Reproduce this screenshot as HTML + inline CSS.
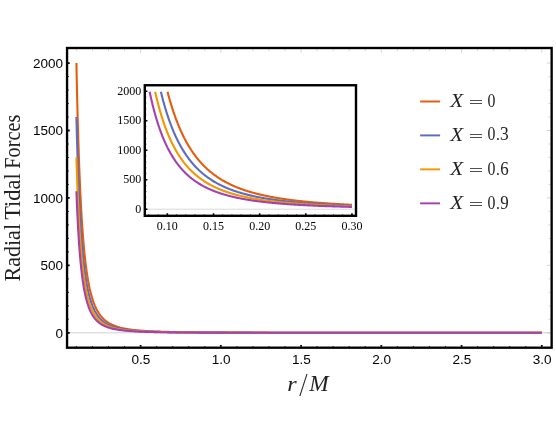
<!DOCTYPE html><html><head><title>Radial Tidal Forces</title><meta charset="utf-8"><style>html,body{margin:0;padding:0;background:#fff}svg{display:block;will-change:transform}text{font-family:"Liberation Sans",sans-serif}.s{font-family:"Liberation Serif",serif}</style></head><body>
<svg width="556" height="445" viewBox="0 0 556 445">
<rect width="556" height="445" fill="#fff"/>
<line x1="68" y1="332.80" x2="551" y2="332.80" stroke="#d0d0d0" stroke-width="1"/>
<path d="M76.41,63.08 L76.55,69.89 L76.68,76.53 L76.82,83.00 L76.96,89.31 L77.11,95.45 L77.25,101.45 L77.39,107.29 L77.54,112.98 L77.69,118.53 L77.84,123.94 L77.99,129.22 L78.14,134.36 L78.29,139.37 L78.44,144.25 L78.60,149.01 L78.75,153.65 L78.91,158.17 L79.07,162.58 L79.23,166.88 L79.39,171.07 L79.55,175.15 L79.72,179.13 L79.88,183.01 L80.05,186.80 L80.22,190.48 L80.39,194.08 L80.56,197.58 L80.73,200.99 L80.91,204.32 L81.08,207.56 L81.26,210.73 L81.44,213.81 L81.62,216.81 L81.80,219.74 L81.99,222.60 L82.17,225.38 L82.36,228.09 L82.55,230.73 L82.74,233.31 L82.93,235.82 L83.12,238.27 L83.32,240.66 L83.51,242.99 L83.71,245.25 L83.91,247.46 L84.11,249.62 L84.32,251.72 L84.52,253.77 L84.73,255.76 L84.94,257.71 L85.15,259.60 L85.36,261.45 L85.57,263.25 L85.79,265.01 L86.01,266.72 L86.23,268.39 L86.45,270.01 L86.67,271.60 L86.90,273.14 L87.12,274.65 L87.35,276.12 L87.58,277.55 L87.82,278.95 L88.05,280.30 L88.29,281.63 L88.53,282.92 L88.77,284.18 L89.01,285.41 L89.26,286.61 L89.51,287.77 L89.75,288.91 L90.01,290.02 L90.26,291.10 L90.52,292.15 L90.77,293.18 L91.03,294.18 L91.30,295.15 L91.56,296.10 L91.83,297.03 L92.10,297.93 L92.37,298.81 L92.64,299.67 L92.92,300.51 L93.20,301.32 L93.48,302.12 L93.76,302.89 L94.05,303.65 L94.34,304.38 L94.63,305.10 L94.92,305.80 L95.22,306.48 L95.52,307.15 L95.82,307.79 L96.12,308.43 L96.43,309.04 L96.74,309.64 L97.05,310.23 L97.36,310.80 L97.68,311.35 L98.00,311.89 L98.32,312.42 L98.65,312.94 L98.97,313.44 L99.30,313.93 L99.64,314.40 L99.97,314.87 L100.31,315.32 L100.65,315.76 L101.00,316.19 L101.35,316.61 L101.70,317.02 L102.05,317.42 L102.41,317.81 L102.77,318.18 L103.13,318.55 L103.50,318.91 L103.87,319.26 L104.24,319.61 L104.62,319.94 L104.99,320.26 L105.38,320.58 L105.76,320.89 L106.15,321.19 L106.54,321.48 L106.94,321.77 L107.34,322.05 L107.74,322.32 L108.14,322.58 L108.55,322.84 L108.97,323.09 L109.38,323.34 L109.80,323.58 L110.22,323.81 L110.65,324.04 L111.08,324.26 L111.52,324.47 L111.95,324.68 L112.40,324.89 L112.84,325.09 L113.29,325.28 L113.74,325.47 L114.20,325.66 L114.66,325.84 L115.13,326.01 L115.60,326.19 L116.07,326.35 L116.55,326.51 L117.03,326.67 L117.51,326.83 L118.00,326.98 L118.49,327.13 L118.99,327.27 L119.49,327.41 L120.00,327.55 L120.51,327.68 L121.03,327.81 L121.54,327.93 L122.07,328.06 L122.60,328.18 L123.13,328.29 L123.67,328.41 L124.21,328.52 L124.76,328.63 L125.31,328.73 L125.86,328.83 L126.42,328.93 L126.99,329.03 L127.56,329.13 L128.13,329.22 L128.72,329.31 L129.30,329.40 L129.89,329.48 L130.49,329.57 L131.09,329.65 L131.69,329.73 L132.30,329.81 L132.92,329.88 L133.54,329.96 L134.17,330.03 L134.80,330.10 L135.43,330.17 L136.08,330.23 L136.73,330.30 L137.38,330.36 L138.04,330.42 L138.70,330.48 L139.37,330.54 L140.05,330.60 L140.73,330.65 L141.42,330.71 L142.11,330.76 L142.81,330.81 L143.52,330.86 L144.23,330.91 L144.95,330.96 L145.67,331.00 L146.41,331.05 L147.14,331.09 L147.88,331.14 L148.63,331.18 L149.39,331.22 L150.15,331.26 L150.92,331.30 L151.70,331.34 L152.48,331.37 L153.27,331.41 L154.06,331.45 L154.86,331.48 L155.67,331.51 L156.49,331.55 L157.31,331.58 L158.14,331.61 L158.98,331.64 L159.82,331.67 L160.67,331.70 L161.53,331.72 L162.40,331.75 L163.27,331.78 L164.15,331.80 L165.04,331.83 L165.94,331.85 L166.84,331.88 L167.75,331.90 L168.67,331.92 L169.60,331.94 L170.54,331.97 L171.48,331.99 L172.43,332.01 L173.39,332.03 L174.36,332.05 L175.33,332.07 L176.32,332.09 L177.31,332.10 L178.31,332.12 L179.32,332.14 L180.34,332.15 L181.37,332.17 L182.40,332.19 L183.45,332.20 L184.50,332.22 L185.56,332.23 L186.64,332.25 L187.72,332.26 L188.81,332.27 L189.91,332.29 L191.02,332.30 L192.13,332.31 L193.26,332.33 L194.40,332.34 L195.55,332.35 L196.70,332.36 L197.87,332.37 L199.05,332.38 L200.24,332.39 L201.43,332.40 L202.64,332.41 L203.86,332.42 L205.09,332.43 L206.33,332.44 L207.58,332.45 L208.84,332.46 L210.11,332.47 L211.39,332.48 L212.68,332.48 L213.99,332.49 L215.30,332.50 L216.63,332.51 L217.97,332.52 L219.32,332.52 L220.68,332.53 L222.05,332.54 L223.43,332.54 L224.83,332.55 L226.24,332.56 L227.66,332.56 L229.09,332.57 L230.53,332.57 L231.99,332.58 L233.46,332.59 L234.94,332.59 L236.44,332.60 L237.94,332.60 L239.46,332.61 L241.00,332.61 L242.54,332.62 L244.10,332.62 L245.68,332.62 L247.26,332.63 L248.86,332.63 L250.48,332.64 L252.10,332.64 L253.74,332.65 L255.40,332.65 L257.07,332.65 L258.75,332.66 L260.45,332.66 L262.17,332.66 L263.89,332.67 L265.64,332.67 L267.39,332.67 L269.16,332.68 L270.95,332.68 L272.76,332.68 L274.57,332.69 L276.41,332.69 L278.26,332.69 L280.12,332.69 L282.00,332.70 L283.90,332.70 L285.81,332.70 L287.74,332.71 L289.69,332.71 L291.65,332.71 L293.63,332.71 L295.63,332.71 L297.65,332.72 L299.68,332.72 L301.73,332.72 L303.79,332.72 L305.88,332.72 L307.98,332.73 L310.10,332.73 L312.24,332.73 L314.39,332.73 L316.57,332.73 L318.76,332.74 L320.97,332.74 L323.20,332.74 L325.45,332.74 L327.72,332.74 L330.01,332.74 L332.32,332.74 L334.65,332.75 L337.00,332.75 L339.36,332.75 L341.75,332.75 L344.16,332.75 L346.59,332.75 L349.04,332.75 L351.51,332.75 L354.01,332.76 L356.52,332.76 L359.05,332.76 L361.61,332.76 L364.19,332.76 L366.79,332.76 L369.41,332.76 L372.06,332.76 L374.73,332.76 L377.42,332.77 L380.13,332.77 L382.87,332.77 L385.63,332.77 L388.42,332.77 L391.23,332.77 L394.06,332.77 L396.91,332.77 L399.80,332.77 L402.70,332.77 L405.63,332.77 L408.59,332.77 L411.57,332.77 L414.58,332.77 L417.61,332.78 L420.67,332.78 L423.75,332.78 L426.86,332.78 L430.00,332.78 L433.16,332.78 L436.36,332.78 L439.57,332.78 L442.82,332.78 L446.09,332.78 L449.40,332.78 L452.73,332.78 L456.09,332.78 L459.47,332.78 L462.89,332.78 L466.34,332.78 L469.81,332.78 L473.32,332.78 L476.85,332.78 L480.42,332.78 L484.01,332.79 L487.64,332.79 L491.30,332.79 L494.99,332.79 L498.71,332.79 L502.46,332.79 L506.25,332.79 L510.06,332.79 L513.91,332.79 L517.80,332.79 L521.71,332.79 L525.66,332.79 L529.64,332.79 L533.66,332.79 L537.71,332.79 L541.80,332.79" fill="none" stroke="#E65C0E" stroke-width="2.1" stroke-linejoin="round"/>
<path d="M76.41,117.02 L76.55,122.47 L76.68,127.78 L76.82,132.96 L76.96,138.00 L77.11,142.92 L77.25,147.72 L77.39,152.39 L77.54,156.95 L77.69,161.39 L77.84,165.71 L77.99,169.93 L78.14,174.04 L78.29,178.05 L78.44,181.96 L78.60,185.77 L78.75,189.48 L78.91,193.10 L79.07,196.63 L79.23,200.06 L79.39,203.42 L79.55,206.68 L79.72,209.87 L79.88,212.97 L80.05,216.00 L80.22,218.95 L80.39,221.82 L80.56,224.62 L80.73,227.35 L80.91,230.02 L81.08,232.61 L81.26,235.14 L81.44,237.61 L81.62,240.01 L81.80,242.35 L81.99,244.64 L82.17,246.86 L82.36,249.03 L82.55,251.15 L82.74,253.21 L82.93,255.22 L83.12,257.18 L83.32,259.09 L83.51,260.95 L83.71,262.76 L83.91,264.53 L84.11,266.25 L84.32,267.93 L84.52,269.57 L84.73,271.17 L84.94,272.72 L85.15,274.24 L85.36,275.72 L85.57,277.16 L85.79,278.57 L86.01,279.94 L86.23,281.27 L86.45,282.57 L86.67,283.84 L86.90,285.08 L87.12,286.28 L87.35,287.46 L87.58,288.60 L87.82,289.72 L88.05,290.80 L88.29,291.86 L88.53,292.90 L88.77,293.91 L89.01,294.89 L89.26,295.84 L89.51,296.78 L89.75,297.69 L90.01,298.57 L90.26,299.44 L90.52,300.28 L90.77,301.10 L91.03,301.90 L91.30,302.68 L91.56,303.44 L91.83,304.18 L92.10,304.91 L92.37,305.61 L92.64,306.30 L92.92,306.97 L93.20,307.62 L93.48,308.25 L93.76,308.87 L94.05,309.48 L94.34,310.07 L94.63,310.64 L94.92,311.20 L95.22,311.75 L95.52,312.28 L95.82,312.80 L96.12,313.30 L96.43,313.79 L96.74,314.27 L97.05,314.74 L97.36,315.20 L97.68,315.64 L98.00,316.07 L98.32,316.50 L98.65,316.91 L98.97,317.31 L99.30,317.70 L99.64,318.08 L99.97,318.45 L100.31,318.82 L100.65,319.17 L101.00,319.51 L101.35,319.85 L101.70,320.18 L102.05,320.49 L102.41,320.80 L102.77,321.11 L103.13,321.40 L103.50,321.69 L103.87,321.97 L104.24,322.24 L104.62,322.51 L104.99,322.77 L105.38,323.02 L105.76,323.27 L106.15,323.51 L106.54,323.75 L106.94,323.97 L107.34,324.20 L107.74,324.41 L108.14,324.63 L108.55,324.83 L108.97,325.03 L109.38,325.23 L109.80,325.42 L110.22,325.61 L110.65,325.79 L111.08,325.97 L111.52,326.14 L111.95,326.31 L112.40,326.47 L112.84,326.63 L113.29,326.79 L113.74,326.94 L114.20,327.09 L114.66,327.23 L115.13,327.37 L115.60,327.51 L116.07,327.64 L116.55,327.77 L117.03,327.90 L117.51,328.02 L118.00,328.14 L118.49,328.26 L118.99,328.38 L119.49,328.49 L120.00,328.60 L120.51,328.70 L121.03,328.81 L121.54,328.91 L122.07,329.00 L122.60,329.10 L123.13,329.19 L123.67,329.29 L124.21,329.37 L124.76,329.46 L125.31,329.54 L125.86,329.63 L126.42,329.71 L126.99,329.79 L127.56,329.86 L128.13,329.94 L128.72,330.01 L129.30,330.08 L129.89,330.15 L130.49,330.21 L131.09,330.28 L131.69,330.34 L132.30,330.40 L132.92,330.47 L133.54,330.52 L134.17,330.58 L134.80,330.64 L135.43,330.69 L136.08,330.75 L136.73,330.80 L137.38,330.85 L138.04,330.90 L138.70,330.95 L139.37,330.99 L140.05,331.04 L140.73,331.08 L141.42,331.13 L142.11,331.17 L142.81,331.21 L143.52,331.25 L144.23,331.29 L144.95,331.33 L145.67,331.36 L146.41,331.40 L147.14,331.44 L147.88,331.47 L148.63,331.50 L149.39,331.54 L150.15,331.57 L150.92,331.60 L151.70,331.63 L152.48,331.66 L153.27,331.69 L154.06,331.72 L154.86,331.74 L155.67,331.77 L156.49,331.80 L157.31,331.82 L158.14,331.85 L158.98,331.87 L159.82,331.89 L160.67,331.92 L161.53,331.94 L162.40,331.96 L163.27,331.98 L164.15,332.00 L165.04,332.02 L165.94,332.04 L166.84,332.06 L167.75,332.08 L168.67,332.10 L169.60,332.12 L170.54,332.13 L171.48,332.15 L172.43,332.17 L173.39,332.18 L174.36,332.20 L175.33,332.21 L176.32,332.23 L177.31,332.24 L178.31,332.26 L179.32,332.27 L180.34,332.28 L181.37,332.30 L182.40,332.31 L183.45,332.32 L184.50,332.33 L185.56,332.35 L186.64,332.36 L187.72,332.37 L188.81,332.38 L189.91,332.39 L191.02,332.40 L192.13,332.41 L193.26,332.42 L194.40,332.43 L195.55,332.44 L196.70,332.45 L197.87,332.46 L199.05,332.47 L200.24,332.47 L201.43,332.48 L202.64,332.49 L203.86,332.50 L205.09,332.51 L206.33,332.51 L207.58,332.52 L208.84,332.53 L210.11,332.53 L211.39,332.54 L212.68,332.55 L213.99,332.55 L215.30,332.56 L216.63,332.57 L217.97,332.57 L219.32,332.58 L220.68,332.58 L222.05,332.59 L223.43,332.59 L224.83,332.60 L226.24,332.60 L227.66,332.61 L229.09,332.61 L230.53,332.62 L231.99,332.62 L233.46,332.63 L234.94,332.63 L236.44,332.64 L237.94,332.64 L239.46,332.64 L241.00,332.65 L242.54,332.65 L244.10,332.66 L245.68,332.66 L247.26,332.66 L248.86,332.67 L250.48,332.67 L252.10,332.67 L253.74,332.68 L255.40,332.68 L257.07,332.68 L258.75,332.69 L260.45,332.69 L262.17,332.69 L263.89,332.69 L265.64,332.70 L267.39,332.70 L269.16,332.70 L270.95,332.70 L272.76,332.71 L274.57,332.71 L276.41,332.71 L278.26,332.71 L280.12,332.72 L282.00,332.72 L283.90,332.72 L285.81,332.72 L287.74,332.72 L289.69,332.73 L291.65,332.73 L293.63,332.73 L295.63,332.73 L297.65,332.73 L299.68,332.73 L301.73,332.74 L303.79,332.74 L305.88,332.74 L307.98,332.74 L310.10,332.74 L312.24,332.74 L314.39,332.75 L316.57,332.75 L318.76,332.75 L320.97,332.75 L323.20,332.75 L325.45,332.75 L327.72,332.75 L330.01,332.75 L332.32,332.76 L334.65,332.76 L337.00,332.76 L339.36,332.76 L341.75,332.76 L344.16,332.76 L346.59,332.76 L349.04,332.76 L351.51,332.76 L354.01,332.76 L356.52,332.77 L359.05,332.77 L361.61,332.77 L364.19,332.77 L366.79,332.77 L369.41,332.77 L372.06,332.77 L374.73,332.77 L377.42,332.77 L380.13,332.77 L382.87,332.77 L385.63,332.77 L388.42,332.77 L391.23,332.78 L394.06,332.78 L396.91,332.78 L399.80,332.78 L402.70,332.78 L405.63,332.78 L408.59,332.78 L411.57,332.78 L414.58,332.78 L417.61,332.78 L420.67,332.78 L423.75,332.78 L426.86,332.78 L430.00,332.78 L433.16,332.78 L436.36,332.78 L439.57,332.78 L442.82,332.78 L446.09,332.78 L449.40,332.78 L452.73,332.79 L456.09,332.79 L459.47,332.79 L462.89,332.79 L466.34,332.79 L469.81,332.79 L473.32,332.79 L476.85,332.79 L480.42,332.79 L484.01,332.79 L487.64,332.79 L491.30,332.79 L494.99,332.79 L498.71,332.79 L502.46,332.79 L506.25,332.79 L510.06,332.79 L513.91,332.79 L517.80,332.79 L521.71,332.79 L525.66,332.79 L529.64,332.79 L533.66,332.79 L537.71,332.79 L541.80,332.79" fill="none" stroke="#5D6DC1" stroke-width="2.1" stroke-linejoin="round"/>
<path d="M76.41,157.48 L76.55,161.91 L76.68,166.22 L76.82,170.43 L76.96,174.53 L77.11,178.52 L77.25,182.42 L77.39,186.22 L77.54,189.92 L77.69,193.53 L77.84,197.04 L77.99,200.47 L78.14,203.81 L78.29,207.07 L78.44,210.24 L78.60,213.34 L78.75,216.35 L78.91,219.29 L79.07,222.16 L79.23,224.95 L79.39,227.68 L79.55,230.33 L79.72,232.92 L79.88,235.44 L80.05,237.90 L80.22,240.29 L80.39,242.63 L80.56,244.91 L80.73,247.13 L80.91,249.29 L81.08,251.40 L81.26,253.45 L81.44,255.46 L81.62,257.41 L81.80,259.31 L81.99,261.17 L82.17,262.98 L82.36,264.74 L82.55,266.46 L82.74,268.13 L82.93,269.77 L83.12,271.36 L83.32,272.91 L83.51,274.42 L83.71,275.89 L83.91,277.33 L84.11,278.73 L84.32,280.10 L84.52,281.43 L84.73,282.72 L84.94,283.99 L85.15,285.22 L85.36,286.42 L85.57,287.59 L85.79,288.74 L86.01,289.85 L86.23,290.93 L86.45,291.99 L86.67,293.02 L86.90,294.02 L87.12,295.00 L87.35,295.96 L87.58,296.89 L87.82,297.79 L88.05,298.68 L88.29,299.54 L88.53,300.38 L88.77,301.20 L89.01,302.00 L89.26,302.77 L89.51,303.53 L89.75,304.27 L90.01,304.99 L90.26,305.69 L90.52,306.38 L90.77,307.04 L91.03,307.70 L91.30,308.33 L91.56,308.95 L91.83,309.55 L92.10,310.14 L92.37,310.71 L92.64,311.27 L92.92,311.81 L93.20,312.34 L93.48,312.86 L93.76,313.36 L94.05,313.85 L94.34,314.33 L94.63,314.80 L94.92,315.25 L95.22,315.69 L95.52,316.13 L95.82,316.55 L96.12,316.96 L96.43,317.36 L96.74,317.75 L97.05,318.13 L97.36,318.50 L97.68,318.86 L98.00,319.21 L98.32,319.55 L98.65,319.89 L98.97,320.21 L99.30,320.53 L99.64,320.84 L99.97,321.14 L100.31,321.44 L100.65,321.72 L101.00,322.00 L101.35,322.28 L101.70,322.54 L102.05,322.80 L102.41,323.05 L102.77,323.30 L103.13,323.54 L103.50,323.77 L103.87,324.00 L104.24,324.22 L104.62,324.44 L104.99,324.65 L105.38,324.86 L105.76,325.06 L106.15,325.25 L106.54,325.44 L106.94,325.63 L107.34,325.81 L107.74,325.99 L108.14,326.16 L108.55,326.33 L108.97,326.49 L109.38,326.65 L109.80,326.80 L110.22,326.96 L110.65,327.10 L111.08,327.25 L111.52,327.39 L111.95,327.52 L112.40,327.66 L112.84,327.79 L113.29,327.91 L113.74,328.04 L114.20,328.16 L114.66,328.27 L115.13,328.39 L115.60,328.50 L116.07,328.61 L116.55,328.71 L117.03,328.82 L117.51,328.92 L118.00,329.02 L118.49,329.11 L118.99,329.21 L119.49,329.30 L120.00,329.38 L120.51,329.47 L121.03,329.55 L121.54,329.64 L122.07,329.72 L122.60,329.79 L123.13,329.87 L123.67,329.94 L124.21,330.02 L124.76,330.09 L125.31,330.16 L125.86,330.22 L126.42,330.29 L126.99,330.35 L127.56,330.41 L128.13,330.47 L128.72,330.53 L129.30,330.59 L129.89,330.64 L130.49,330.70 L131.09,330.75 L131.69,330.80 L132.30,330.85 L132.92,330.90 L133.54,330.95 L134.17,331.00 L134.80,331.04 L135.43,331.09 L136.08,331.13 L136.73,331.17 L137.38,331.21 L138.04,331.25 L138.70,331.29 L139.37,331.33 L140.05,331.37 L140.73,331.40 L141.42,331.44 L142.11,331.47 L142.81,331.51 L143.52,331.54 L144.23,331.57 L144.95,331.60 L145.67,331.63 L146.41,331.66 L147.14,331.69 L147.88,331.72 L148.63,331.75 L149.39,331.77 L150.15,331.80 L150.92,331.82 L151.70,331.85 L152.48,331.87 L153.27,331.90 L154.06,331.92 L154.86,331.94 L155.67,331.96 L156.49,331.98 L157.31,332.00 L158.14,332.02 L158.98,332.04 L159.82,332.06 L160.67,332.08 L161.53,332.10 L162.40,332.12 L163.27,332.14 L164.15,332.15 L165.04,332.17 L165.94,332.18 L166.84,332.20 L167.75,332.22 L168.67,332.23 L169.60,332.24 L170.54,332.26 L171.48,332.27 L172.43,332.29 L173.39,332.30 L174.36,332.31 L175.33,332.32 L176.32,332.34 L177.31,332.35 L178.31,332.36 L179.32,332.37 L180.34,332.38 L181.37,332.39 L182.40,332.40 L183.45,332.41 L184.50,332.42 L185.56,332.43 L186.64,332.44 L187.72,332.45 L188.81,332.46 L189.91,332.47 L191.02,332.48 L192.13,332.48 L193.26,332.49 L194.40,332.50 L195.55,332.51 L196.70,332.51 L197.87,332.52 L199.05,332.53 L200.24,332.54 L201.43,332.54 L202.64,332.55 L203.86,332.55 L205.09,332.56 L206.33,332.57 L207.58,332.57 L208.84,332.58 L210.11,332.58 L211.39,332.59 L212.68,332.59 L213.99,332.60 L215.30,332.61 L216.63,332.61 L217.97,332.61 L219.32,332.62 L220.68,332.62 L222.05,332.63 L223.43,332.63 L224.83,332.64 L226.24,332.64 L227.66,332.65 L229.09,332.65 L230.53,332.65 L231.99,332.66 L233.46,332.66 L234.94,332.66 L236.44,332.67 L237.94,332.67 L239.46,332.67 L241.00,332.68 L242.54,332.68 L244.10,332.68 L245.68,332.69 L247.26,332.69 L248.86,332.69 L250.48,332.69 L252.10,332.70 L253.74,332.70 L255.40,332.70 L257.07,332.70 L258.75,332.71 L260.45,332.71 L262.17,332.71 L263.89,332.71 L265.64,332.72 L267.39,332.72 L269.16,332.72 L270.95,332.72 L272.76,332.72 L274.57,332.73 L276.41,332.73 L278.26,332.73 L280.12,332.73 L282.00,332.73 L283.90,332.74 L285.81,332.74 L287.74,332.74 L289.69,332.74 L291.65,332.74 L293.63,332.74 L295.63,332.74 L297.65,332.75 L299.68,332.75 L301.73,332.75 L303.79,332.75 L305.88,332.75 L307.98,332.75 L310.10,332.75 L312.24,332.75 L314.39,332.76 L316.57,332.76 L318.76,332.76 L320.97,332.76 L323.20,332.76 L325.45,332.76 L327.72,332.76 L330.01,332.76 L332.32,332.76 L334.65,332.76 L337.00,332.77 L339.36,332.77 L341.75,332.77 L344.16,332.77 L346.59,332.77 L349.04,332.77 L351.51,332.77 L354.01,332.77 L356.52,332.77 L359.05,332.77 L361.61,332.77 L364.19,332.77 L366.79,332.77 L369.41,332.78 L372.06,332.78 L374.73,332.78 L377.42,332.78 L380.13,332.78 L382.87,332.78 L385.63,332.78 L388.42,332.78 L391.23,332.78 L394.06,332.78 L396.91,332.78 L399.80,332.78 L402.70,332.78 L405.63,332.78 L408.59,332.78 L411.57,332.78 L414.58,332.78 L417.61,332.78 L420.67,332.78 L423.75,332.78 L426.86,332.79 L430.00,332.79 L433.16,332.79 L436.36,332.79 L439.57,332.79 L442.82,332.79 L446.09,332.79 L449.40,332.79 L452.73,332.79 L456.09,332.79 L459.47,332.79 L462.89,332.79 L466.34,332.79 L469.81,332.79 L473.32,332.79 L476.85,332.79 L480.42,332.79 L484.01,332.79 L487.64,332.79 L491.30,332.79 L494.99,332.79 L498.71,332.79 L502.46,332.79 L506.25,332.79 L510.06,332.79 L513.91,332.79 L517.80,332.79 L521.71,332.79 L525.66,332.79 L529.64,332.79 L533.66,332.79 L537.71,332.79 L541.80,332.79" fill="none" stroke="#F19700" stroke-width="2.1" stroke-linejoin="round"/>
<path d="M76.41,191.20 L76.55,194.77 L76.68,198.26 L76.82,201.65 L76.96,204.97 L77.11,208.19 L77.25,211.34 L77.39,214.41 L77.54,217.40 L77.69,220.31 L77.84,223.15 L77.99,225.92 L78.14,228.62 L78.29,231.25 L78.44,233.81 L78.60,236.31 L78.75,238.75 L78.91,241.12 L79.07,243.44 L79.23,245.69 L79.39,247.89 L79.55,250.04 L79.72,252.13 L79.88,254.16 L80.05,256.15 L80.22,258.08 L80.39,259.97 L80.56,261.81 L80.73,263.60 L80.91,265.35 L81.08,267.05 L81.26,268.71 L81.44,270.33 L81.62,271.91 L81.80,273.44 L81.99,274.94 L82.17,276.40 L82.36,277.83 L82.55,279.22 L82.74,280.57 L82.93,281.89 L83.12,283.17 L83.32,284.43 L83.51,285.65 L83.71,286.84 L83.91,288.00 L84.11,289.13 L84.32,290.23 L84.52,291.31 L84.73,292.35 L84.94,293.38 L85.15,294.37 L85.36,295.34 L85.57,296.29 L85.79,297.21 L86.01,298.11 L86.23,298.98 L86.45,299.84 L86.67,300.67 L86.90,301.48 L87.12,302.27 L87.35,303.04 L87.58,303.79 L87.82,304.53 L88.05,305.24 L88.29,305.94 L88.53,306.61 L88.77,307.28 L89.01,307.92 L89.26,308.55 L89.51,309.16 L89.75,309.76 L90.01,310.34 L90.26,310.91 L90.52,311.46 L90.77,312.00 L91.03,312.52 L91.30,313.03 L91.56,313.53 L91.83,314.02 L92.10,314.49 L92.37,314.96 L92.64,315.41 L92.92,315.85 L93.20,316.27 L93.48,316.69 L93.76,317.10 L94.05,317.49 L94.34,317.88 L94.63,318.26 L94.92,318.63 L95.22,318.98 L95.52,319.33 L95.82,319.67 L96.12,320.00 L96.43,320.33 L96.74,320.64 L97.05,320.95 L97.36,321.25 L97.68,321.54 L98.00,321.82 L98.32,322.10 L98.65,322.37 L98.97,322.63 L99.30,322.89 L99.64,323.14 L99.97,323.39 L100.31,323.62 L100.65,323.85 L101.00,324.08 L101.35,324.30 L101.70,324.52 L102.05,324.72 L102.41,324.93 L102.77,325.13 L103.13,325.32 L103.50,325.51 L103.87,325.69 L104.24,325.87 L104.62,326.05 L104.99,326.22 L105.38,326.38 L105.76,326.55 L106.15,326.70 L106.54,326.86 L106.94,327.01 L107.34,327.15 L107.74,327.30 L108.14,327.44 L108.55,327.57 L108.97,327.70 L109.38,327.83 L109.80,327.96 L110.22,328.08 L110.65,328.20 L111.08,328.32 L111.52,328.43 L111.95,328.54 L112.40,328.65 L112.84,328.75 L113.29,328.85 L113.74,328.95 L114.20,329.05 L114.66,329.14 L115.13,329.24 L115.60,329.33 L116.07,329.41 L116.55,329.50 L117.03,329.58 L117.51,329.66 L118.00,329.74 L118.49,329.82 L118.99,329.90 L119.49,329.97 L120.00,330.04 L120.51,330.11 L121.03,330.18 L121.54,330.24 L122.07,330.31 L122.60,330.37 L123.13,330.43 L123.67,330.49 L124.21,330.55 L124.76,330.61 L125.31,330.66 L125.86,330.72 L126.42,330.77 L126.99,330.82 L127.56,330.87 L128.13,330.92 L128.72,330.97 L129.30,331.01 L129.89,331.06 L130.49,331.10 L131.09,331.15 L131.69,331.19 L132.30,331.23 L132.92,331.27 L133.54,331.31 L134.17,331.34 L134.80,331.38 L135.43,331.42 L136.08,331.45 L136.73,331.49 L137.38,331.52 L138.04,331.55 L138.70,331.58 L139.37,331.61 L140.05,331.64 L140.73,331.67 L141.42,331.70 L142.11,331.73 L142.81,331.76 L143.52,331.78 L144.23,331.81 L144.95,331.83 L145.67,331.86 L146.41,331.88 L147.14,331.90 L147.88,331.93 L148.63,331.95 L149.39,331.97 L150.15,331.99 L150.92,332.01 L151.70,332.03 L152.48,332.05 L153.27,332.07 L154.06,332.09 L154.86,332.11 L155.67,332.12 L156.49,332.14 L157.31,332.16 L158.14,332.17 L158.98,332.19 L159.82,332.21 L160.67,332.22 L161.53,332.23 L162.40,332.25 L163.27,332.26 L164.15,332.28 L165.04,332.29 L165.94,332.30 L166.84,332.32 L167.75,332.33 L168.67,332.34 L169.60,332.35 L170.54,332.36 L171.48,332.37 L172.43,332.38 L173.39,332.39 L174.36,332.40 L175.33,332.41 L176.32,332.42 L177.31,332.43 L178.31,332.44 L179.32,332.45 L180.34,332.46 L181.37,332.47 L182.40,332.48 L183.45,332.49 L184.50,332.49 L185.56,332.50 L186.64,332.51 L187.72,332.52 L188.81,332.52 L189.91,332.53 L191.02,332.54 L192.13,332.54 L193.26,332.55 L194.40,332.56 L195.55,332.56 L196.70,332.57 L197.87,332.57 L199.05,332.58 L200.24,332.59 L201.43,332.59 L202.64,332.60 L203.86,332.60 L205.09,332.61 L206.33,332.61 L207.58,332.62 L208.84,332.62 L210.11,332.63 L211.39,332.63 L212.68,332.63 L213.99,332.64 L215.30,332.64 L216.63,332.65 L217.97,332.65 L219.32,332.65 L220.68,332.66 L222.05,332.66 L223.43,332.67 L224.83,332.67 L226.24,332.67 L227.66,332.68 L229.09,332.68 L230.53,332.68 L231.99,332.68 L233.46,332.69 L234.94,332.69 L236.44,332.69 L237.94,332.70 L239.46,332.70 L241.00,332.70 L242.54,332.70 L244.10,332.71 L245.68,332.71 L247.26,332.71 L248.86,332.71 L250.48,332.71 L252.10,332.72 L253.74,332.72 L255.40,332.72 L257.07,332.72 L258.75,332.73 L260.45,332.73 L262.17,332.73 L263.89,332.73 L265.64,332.73 L267.39,332.73 L269.16,332.74 L270.95,332.74 L272.76,332.74 L274.57,332.74 L276.41,332.74 L278.26,332.74 L280.12,332.74 L282.00,332.75 L283.90,332.75 L285.81,332.75 L287.74,332.75 L289.69,332.75 L291.65,332.75 L293.63,332.75 L295.63,332.76 L297.65,332.76 L299.68,332.76 L301.73,332.76 L303.79,332.76 L305.88,332.76 L307.98,332.76 L310.10,332.76 L312.24,332.76 L314.39,332.76 L316.57,332.77 L318.76,332.77 L320.97,332.77 L323.20,332.77 L325.45,332.77 L327.72,332.77 L330.01,332.77 L332.32,332.77 L334.65,332.77 L337.00,332.77 L339.36,332.77 L341.75,332.77 L344.16,332.77 L346.59,332.78 L349.04,332.78 L351.51,332.78 L354.01,332.78 L356.52,332.78 L359.05,332.78 L361.61,332.78 L364.19,332.78 L366.79,332.78 L369.41,332.78 L372.06,332.78 L374.73,332.78 L377.42,332.78 L380.13,332.78 L382.87,332.78 L385.63,332.78 L388.42,332.78 L391.23,332.78 L394.06,332.78 L396.91,332.78 L399.80,332.79 L402.70,332.79 L405.63,332.79 L408.59,332.79 L411.57,332.79 L414.58,332.79 L417.61,332.79 L420.67,332.79 L423.75,332.79 L426.86,332.79 L430.00,332.79 L433.16,332.79 L436.36,332.79 L439.57,332.79 L442.82,332.79 L446.09,332.79 L449.40,332.79 L452.73,332.79 L456.09,332.79 L459.47,332.79 L462.89,332.79 L466.34,332.79 L469.81,332.79 L473.32,332.79 L476.85,332.79 L480.42,332.79 L484.01,332.79 L487.64,332.79 L491.30,332.79 L494.99,332.79 L498.71,332.79 L502.46,332.79 L506.25,332.79 L510.06,332.79 L513.91,332.79 L517.80,332.79 L521.71,332.79 L525.66,332.79 L529.64,332.79 L533.66,332.79 L537.71,332.79 L541.80,332.79" fill="none" stroke="#A541AF" stroke-width="2.1" stroke-linejoin="round"/>
<path d="M76.41,49.1 v2.0 M92.46,49.1 v2.0 M108.50,49.1 v2.0 M124.55,49.1 v2.0 M140.60,49.1 v3.6 M156.65,49.1 v2.0 M172.70,49.1 v2.0 M188.74,49.1 v2.0 M204.79,49.1 v2.0 M220.84,49.1 v3.6 M236.89,49.1 v2.0 M252.94,49.1 v2.0 M268.98,49.1 v2.0 M285.03,49.1 v2.0 M301.08,49.1 v3.6 M317.13,49.1 v2.0 M333.18,49.1 v2.0 M349.22,49.1 v2.0 M365.27,49.1 v2.0 M381.32,49.1 v3.6 M397.37,49.1 v2.0 M413.42,49.1 v2.0 M429.46,49.1 v2.0 M445.51,49.1 v2.0 M461.56,49.1 v3.6 M477.61,49.1 v2.0 M493.66,49.1 v2.0 M509.70,49.1 v2.0 M525.75,49.1 v2.0 M541.80,49.1 v3.6 M550.5,332.80 h-3.6 M550.5,319.31 h-2.0 M550.5,305.83 h-2.0 M550.5,292.34 h-2.0 M550.5,278.86 h-2.0 M550.5,265.37 h-3.6 M550.5,251.88 h-2.0 M550.5,238.40 h-2.0 M550.5,224.91 h-2.0 M550.5,211.43 h-2.0 M550.5,197.94 h-3.6 M550.5,184.45 h-2.0 M550.5,170.97 h-2.0 M550.5,157.48 h-2.0 M550.5,144.00 h-2.0 M550.5,130.51 h-3.6 M550.5,117.02 h-2.0 M550.5,103.54 h-2.0 M550.5,90.05 h-2.0 M550.5,76.57 h-2.0 M550.5,63.08 h-3.6" stroke="#b8b8b8" stroke-width="0.6" fill="none"/>
<path d="M140.60,346.8 v-1.7 M220.84,346.8 v-1.7 M301.08,346.8 v-1.7 M381.32,346.8 v-1.7 M461.56,346.8 v-1.7 M541.80,346.8 v-1.7 M68.0,332.80 h1.7 M68.0,265.37 h1.7 M68.0,197.94 h1.7 M68.0,130.51 h1.7 M68.0,63.08 h1.7" stroke="#000" stroke-width="1.8" fill="none"/>
<path d="M76.41,346.8 v-0.7 M92.46,346.8 v-0.7 M108.50,346.8 v-0.7 M124.55,346.8 v-0.7 M156.65,346.8 v-0.7 M172.70,346.8 v-0.7 M188.74,346.8 v-0.7 M204.79,346.8 v-0.7 M236.89,346.8 v-0.7 M252.94,346.8 v-0.7 M268.98,346.8 v-0.7 M285.03,346.8 v-0.7 M317.13,346.8 v-0.7 M333.18,346.8 v-0.7 M349.22,346.8 v-0.7 M365.27,346.8 v-0.7 M397.37,346.8 v-0.7 M413.42,346.8 v-0.7 M429.46,346.8 v-0.7 M445.51,346.8 v-0.7 M477.61,346.8 v-0.7 M493.66,346.8 v-0.7 M509.70,346.8 v-0.7 M525.75,346.8 v-0.7 M68.0,319.31 h0.7 M68.0,305.83 h0.7 M68.0,292.34 h0.7 M68.0,278.86 h0.7 M68.0,251.88 h0.7 M68.0,238.40 h0.7 M68.0,224.91 h0.7 M68.0,211.43 h0.7 M68.0,184.45 h0.7 M68.0,170.97 h0.7 M68.0,157.48 h0.7 M68.0,144.00 h0.7 M68.0,117.02 h0.7 M68.0,103.54 h0.7 M68.0,90.05 h0.7 M68.0,76.57 h0.7" stroke="#000" stroke-width="1.1" fill="none"/>
<rect x="67.05" y="48.0" width="484.6" height="299.7" fill="none" stroke="#000" stroke-width="2.35"/>
<text x="63.1" y="337.55" font-size="13.5" text-anchor="end" fill="#000">0</text>
<text x="63.1" y="270.12" font-size="13.5" text-anchor="end" fill="#000">500</text>
<text x="63.1" y="202.69" font-size="13.5" text-anchor="end" fill="#000">1000</text>
<text x="63.1" y="135.26" font-size="13.5" text-anchor="end" fill="#000">1500</text>
<text x="63.1" y="67.83" font-size="13.5" text-anchor="end" fill="#000">2000</text>
<text x="140.90" y="363.8" font-size="13.6" text-anchor="middle" fill="#000">0.5</text>
<text x="221.14" y="363.8" font-size="13.6" text-anchor="middle" fill="#000">1.0</text>
<text x="301.38" y="363.8" font-size="13.6" text-anchor="middle" fill="#000">1.5</text>
<text x="381.62" y="363.8" font-size="13.6" text-anchor="middle" fill="#000">2.0</text>
<text x="461.86" y="363.8" font-size="13.6" text-anchor="middle" fill="#000">2.5</text>
<text x="542.10" y="363.8" font-size="13.6" text-anchor="middle" fill="#000">3.0</text>
<rect x="144.8" y="85.25" width="211.2" height="130.55" fill="#fff"/>
<line x1="145" y1="209.20" x2="356" y2="209.20" stroke="#d0d0d0" stroke-width="0.8"/>
<path d="M167.50,91.79 L167.76,92.75 L168.01,93.71 L168.27,94.66 L168.53,95.60 L168.78,96.53 L169.04,97.46 L169.30,98.38 L169.56,99.29 L169.82,100.19 L170.08,101.09 L170.34,101.97 L170.61,102.85 L170.87,103.73 L171.13,104.59 L171.40,105.45 L171.66,106.30 L171.93,107.15 L172.19,107.99 L172.46,108.82 L172.73,109.64 L173.00,110.46 L173.27,111.27 L173.54,112.08 L173.81,112.88 L174.08,113.67 L174.35,114.45 L174.63,115.23 L174.90,116.00 L175.18,116.77 L175.45,117.53 L175.73,118.28 L176.01,119.03 L176.28,119.77 L176.56,120.50 L176.84,121.23 L177.12,121.95 L177.40,122.67 L177.69,123.38 L177.97,124.08 L178.25,124.78 L178.54,125.48 L178.82,126.16 L179.11,126.85 L179.39,127.52 L179.68,128.19 L179.97,128.86 L180.26,129.52 L180.55,130.17 L180.84,130.82 L181.13,131.47 L181.42,132.10 L181.71,132.74 L182.01,133.37 L182.30,133.99 L182.60,134.61 L182.89,135.22 L183.19,135.83 L183.49,136.43 L183.79,137.03 L184.08,137.62 L184.39,138.21 L184.69,138.79 L184.99,139.37 L185.29,139.94 L185.59,140.51 L185.90,141.08 L186.20,141.64 L186.51,142.19 L186.82,142.74 L187.12,143.29 L187.43,143.83 L187.74,144.37 L188.05,144.90 L188.36,145.43 L188.68,145.95 L188.99,146.47 L189.30,146.98 L189.62,147.50 L189.93,148.00 L190.25,148.51 L190.57,149.00 L190.88,149.50 L191.20,149.99 L191.52,150.47 L191.84,150.96 L192.16,151.44 L192.49,151.91 L192.81,152.38 L193.13,152.85 L193.46,153.31 L193.79,153.77 L194.11,154.22 L194.44,154.68 L194.77,155.12 L195.10,155.57 L195.43,156.01 L195.76,156.45 L196.09,156.88 L196.43,157.31 L196.76,157.73 L197.09,158.16 L197.43,158.58 L197.77,158.99 L198.11,159.41 L198.44,159.81 L198.78,160.22 L199.12,160.62 L199.47,161.02 L199.81,161.42 L200.15,161.81 L200.50,162.20 L200.84,162.58 L201.19,162.97 L201.54,163.35 L201.88,163.72 L202.23,164.10 L202.58,164.47 L202.93,164.84 L203.29,165.20 L203.64,165.56 L203.99,165.92 L204.35,166.27 L204.70,166.63 L205.06,166.98 L205.42,167.32 L205.78,167.67 L206.14,168.01 L206.50,168.35 L206.86,168.68 L207.22,169.02 L207.59,169.35 L207.95,169.67 L208.32,170.00 L208.68,170.32 L209.05,170.64 L209.42,170.96 L209.79,171.27 L210.16,171.58 L210.53,171.89 L210.91,172.20 L211.28,172.50 L211.66,172.80 L212.03,173.10 L212.41,173.40 L212.79,173.69 L213.17,173.98 L213.55,174.27 L213.93,174.56 L214.31,174.84 L214.69,175.13 L215.08,175.41 L215.46,175.68 L215.85,175.96 L216.24,176.23 L216.63,176.50 L217.02,176.77 L217.41,177.04 L217.80,177.30 L218.19,177.56 L218.59,177.82 L218.98,178.08 L219.38,178.34 L219.78,178.59 L220.17,178.84 L220.57,179.09 L220.97,179.34 L221.38,179.58 L221.78,179.83 L222.18,180.07 L222.59,180.31 L222.99,180.55 L223.40,180.78 L223.81,181.01 L224.22,181.25 L224.63,181.48 L225.04,181.70 L225.45,181.93 L225.87,182.15 L226.28,182.37 L226.70,182.60 L227.12,182.81 L227.54,183.03 L227.96,183.25 L228.38,183.46 L228.80,183.67 L229.22,183.88 L229.65,184.09 L230.07,184.29 L230.50,184.50 L230.93,184.70 L231.36,184.90 L231.79,185.10 L232.22,185.30 L232.65,185.50 L233.08,185.69 L233.52,185.88 L233.96,186.08 L234.39,186.27 L234.83,186.45 L235.27,186.64 L235.71,186.83 L236.16,187.01 L236.60,187.19 L237.04,187.37 L237.49,187.55 L237.94,187.73 L238.39,187.91 L238.83,188.08 L239.29,188.25 L239.74,188.43 L240.19,188.60 L240.65,188.77 L241.10,188.93 L241.56,189.10 L242.02,189.27 L242.48,189.43 L242.94,189.59 L243.40,189.75 L243.86,189.91 L244.33,190.07 L244.79,190.23 L245.26,190.38 L245.73,190.54 L246.20,190.69 L246.67,190.84 L247.14,190.99 L247.62,191.14 L248.09,191.29 L248.57,191.44 L249.05,191.59 L249.53,191.73 L250.01,191.87 L250.49,192.02 L250.97,192.16 L251.46,192.30 L251.94,192.44 L252.43,192.57 L252.92,192.71 L253.41,192.85 L253.90,192.98 L254.39,193.11 L254.88,193.25 L255.38,193.38 L255.87,193.51 L256.37,193.64 L256.87,193.76 L257.37,193.89 L257.87,194.02 L258.38,194.14 L258.88,194.26 L259.39,194.39 L259.90,194.51 L260.40,194.63 L260.91,194.75 L261.43,194.87 L261.94,194.99 L262.45,195.10 L262.97,195.22 L263.49,195.33 L264.01,195.45 L264.53,195.56 L265.05,195.67 L265.57,195.78 L266.10,195.89 L266.62,196.00 L267.15,196.11 L267.68,196.22 L268.21,196.32 L268.74,196.43 L269.27,196.54 L269.81,196.64 L270.34,196.74 L270.88,196.85 L271.42,196.95 L271.96,197.05 L272.50,197.15 L273.05,197.25 L273.59,197.34 L274.14,197.44 L274.69,197.54 L275.24,197.63 L275.79,197.73 L276.34,197.82 L276.89,197.92 L277.45,198.01 L278.01,198.10 L278.57,198.19 L279.13,198.28 L279.69,198.37 L280.25,198.46 L280.82,198.55 L281.38,198.64 L281.95,198.72 L282.52,198.81 L283.09,198.90 L283.66,198.98 L284.24,199.06 L284.81,199.15 L285.39,199.23 L285.97,199.31 L286.55,199.39 L287.13,199.47 L287.72,199.55 L288.30,199.63 L288.89,199.71 L289.48,199.79 L290.07,199.87 L290.66,199.94 L291.25,200.02 L291.85,200.09 L292.45,200.17 L293.05,200.24 L293.65,200.32 L294.25,200.39 L294.85,200.46 L295.46,200.53 L296.06,200.61 L296.67,200.68 L297.28,200.75 L297.89,200.82 L298.51,200.88 L299.12,200.95 L299.74,201.02 L300.36,201.09 L300.98,201.15 L301.60,201.22 L302.22,201.29 L302.85,201.35 L303.48,201.42 L304.10,201.48 L304.74,201.54 L305.37,201.61 L306.00,201.67 L306.64,201.73 L307.27,201.79 L307.91,201.85 L308.56,201.91 L309.20,201.97 L309.84,202.03 L310.49,202.09 L311.14,202.15 L311.79,202.21 L312.44,202.26 L313.09,202.32 L313.75,202.38 L314.40,202.43 L315.06,202.49 L315.72,202.54 L316.39,202.60 L317.05,202.65 L317.72,202.71 L318.39,202.76 L319.06,202.81 L319.73,202.87 L320.40,202.92 L321.08,202.97 L321.75,203.02 L322.43,203.07 L323.11,203.12 L323.80,203.17 L324.48,203.22 L325.17,203.27 L325.86,203.32 L326.55,203.37 L327.24,203.41 L327.93,203.46 L328.63,203.51 L329.33,203.56 L330.03,203.60 L330.73,203.65 L331.43,203.69 L332.14,203.74 L332.85,203.78 L333.56,203.83 L334.27,203.87 L334.98,203.92 L335.70,203.96 L336.42,204.00 L337.14,204.05 L337.86,204.09 L338.58,204.13 L339.31,204.17 L340.03,204.21 L340.76,204.25 L341.49,204.29 L342.23,204.33 L342.96,204.37 L343.70,204.41 L344.44,204.45 L345.18,204.49 L345.93,204.53 L346.67,204.57 L347.42,204.61 L348.17,204.65 L348.92,204.68 L349.68,204.72 L350.43,204.76 L351.19,204.79 L351.95,204.83" fill="none" stroke="#E65C0E" stroke-width="2.1" stroke-linejoin="round" stroke-linecap="butt"/>
<path d="M160.88,91.79 L161.13,92.82 L161.38,93.84 L161.64,94.85 L161.89,95.85 L162.15,96.85 L162.40,97.83 L162.66,98.81 L162.92,99.78 L163.17,100.74 L163.43,101.69 L163.69,102.63 L163.95,103.57 L164.22,104.49 L164.48,105.41 L164.74,106.32 L165.00,107.22 L165.27,108.12 L165.53,109.00 L165.80,109.88 L166.07,110.75 L166.33,111.61 L166.60,112.47 L166.87,113.32 L167.14,114.16 L167.41,114.99 L167.68,115.82 L167.96,116.64 L168.23,117.45 L168.50,118.25 L168.78,119.05 L169.05,119.84 L169.33,120.62 L169.61,121.40 L169.89,122.17 L170.16,122.93 L170.44,123.69 L170.72,124.44 L171.01,125.18 L171.29,125.92 L171.57,126.65 L171.85,127.37 L172.14,128.09 L172.42,128.80 L172.71,129.51 L173.00,130.21 L173.29,130.90 L173.57,131.59 L173.86,132.27 L174.16,132.94 L174.45,133.61 L174.74,134.27 L175.03,134.93 L175.33,135.58 L175.62,136.23 L175.92,136.87 L176.21,137.50 L176.51,138.13 L176.81,138.75 L177.11,139.37 L177.41,139.98 L177.71,140.59 L178.01,141.19 L178.31,141.79 L178.62,142.38 L178.92,142.96 L179.23,143.54 L179.53,144.12 L179.84,144.69 L180.15,145.26 L180.46,145.82 L180.77,146.37 L181.08,146.92 L181.39,147.47 L181.70,148.01 L182.02,148.55 L182.33,149.08 L182.65,149.61 L182.96,150.13 L183.28,150.65 L183.60,151.16 L183.92,151.67 L184.24,152.17 L184.56,152.67 L184.88,153.17 L185.20,153.66 L185.53,154.15 L185.85,154.63 L186.18,155.11 L186.50,155.58 L186.83,156.05 L187.16,156.52 L187.49,156.98 L187.82,157.44 L188.15,157.89 L188.48,158.34 L188.82,158.79 L189.15,159.23 L189.49,159.67 L189.82,160.10 L190.16,160.53 L190.50,160.96 L190.84,161.38 L191.18,161.80 L191.52,162.22 L191.86,162.63 L192.21,163.04 L192.55,163.44 L192.90,163.84 L193.24,164.24 L193.59,164.64 L193.94,165.03 L194.29,165.41 L194.64,165.80 L194.99,166.18 L195.34,166.56 L195.70,166.93 L196.05,167.30 L196.41,167.67 L196.76,168.03 L197.12,168.39 L197.48,168.75 L197.84,169.11 L198.20,169.46 L198.56,169.81 L198.93,170.15 L199.29,170.49 L199.66,170.83 L200.02,171.17 L200.39,171.50 L200.76,171.83 L201.13,172.16 L201.50,172.49 L201.87,172.81 L202.24,173.13 L202.62,173.44 L202.99,173.76 L203.37,174.07 L203.75,174.38 L204.12,174.68 L204.50,174.98 L204.88,175.28 L205.27,175.58 L205.65,175.88 L206.03,176.17 L206.42,176.46 L206.80,176.74 L207.19,177.03 L207.58,177.31 L207.97,177.59 L208.36,177.87 L208.75,178.14 L209.15,178.42 L209.54,178.69 L209.94,178.95 L210.33,179.22 L210.73,179.48 L211.13,179.74 L211.53,180.00 L211.93,180.26 L212.33,180.51 L212.74,180.76 L213.14,181.01 L213.55,181.26 L213.95,181.50 L214.36,181.75 L214.77,181.99 L215.18,182.22 L215.59,182.46 L216.01,182.70 L216.42,182.93 L216.84,183.16 L217.25,183.39 L217.67,183.61 L218.09,183.84 L218.51,184.06 L218.93,184.28 L219.36,184.50 L219.78,184.72 L220.21,184.93 L220.63,185.14 L221.06,185.35 L221.49,185.56 L221.92,185.77 L222.35,185.98 L222.79,186.18 L223.22,186.38 L223.66,186.58 L224.09,186.78 L224.53,186.98 L224.97,187.17 L225.41,187.36 L225.85,187.56 L226.30,187.75 L226.74,187.93 L227.19,188.12 L227.63,188.30 L228.08,188.49 L228.53,188.67 L228.98,188.85 L229.44,189.03 L229.89,189.21 L230.35,189.38 L230.80,189.55 L231.26,189.73 L231.72,189.90 L232.18,190.07 L232.64,190.23 L233.11,190.40 L233.57,190.57 L234.04,190.73 L234.50,190.89 L234.97,191.05 L235.44,191.21 L235.91,191.37 L236.39,191.52 L236.86,191.68 L237.34,191.83 L237.81,191.99 L238.29,192.14 L238.77,192.29 L239.25,192.43 L239.74,192.58 L240.22,192.73 L240.71,192.87 L241.19,193.01 L241.68,193.16 L242.17,193.30 L242.66,193.44 L243.16,193.57 L243.65,193.71 L244.15,193.85 L244.64,193.98 L245.14,194.12 L245.64,194.25 L246.14,194.38 L246.65,194.51 L247.15,194.64 L247.66,194.77 L248.16,194.89 L248.67,195.02 L249.18,195.14 L249.70,195.27 L250.21,195.39 L250.72,195.51 L251.24,195.63 L251.76,195.75 L252.28,195.87 L252.80,195.98 L253.32,196.10 L253.85,196.21 L254.37,196.33 L254.90,196.44 L255.43,196.55 L255.96,196.66 L256.49,196.77 L257.02,196.88 L257.56,196.99 L258.09,197.10 L258.63,197.20 L259.17,197.31 L259.71,197.41 L260.26,197.52 L260.80,197.62 L261.35,197.72 L261.90,197.82 L262.44,197.92 L263.00,198.02 L263.55,198.12 L264.10,198.21 L264.66,198.31 L265.22,198.41 L265.77,198.50 L266.34,198.59 L266.90,198.69 L267.46,198.78 L268.03,198.87 L268.59,198.96 L269.16,199.05 L269.73,199.14 L270.31,199.23 L270.88,199.32 L271.46,199.40 L272.03,199.49 L272.61,199.57 L273.19,199.66 L273.78,199.74 L274.36,199.82 L274.95,199.91 L275.53,199.99 L276.12,200.07 L276.71,200.15 L277.31,200.23 L277.90,200.31 L278.50,200.39 L279.10,200.46 L279.70,200.54 L280.30,200.62 L280.90,200.69 L281.51,200.76 L282.11,200.84 L282.72,200.91 L283.33,200.98 L283.95,201.06 L284.56,201.13 L285.18,201.20 L285.79,201.27 L286.41,201.34 L287.03,201.41 L287.66,201.48 L288.28,201.54 L288.91,201.61 L289.54,201.68 L290.17,201.74 L290.80,201.81 L291.44,201.87 L292.07,201.94 L292.71,202.00 L293.35,202.06 L293.99,202.13 L294.64,202.19 L295.28,202.25 L295.93,202.31 L296.58,202.37 L297.23,202.43 L297.88,202.49 L298.54,202.55 L299.19,202.61 L299.85,202.67 L300.51,202.72 L301.18,202.78 L301.84,202.84 L302.51,202.89 L303.18,202.95 L303.85,203.00 L304.52,203.06 L305.20,203.11 L305.87,203.16 L306.55,203.22 L307.23,203.27 L307.91,203.32 L308.60,203.37 L309.28,203.42 L309.97,203.47 L310.66,203.52 L311.36,203.57 L312.05,203.62 L312.75,203.67 L313.45,203.72 L314.15,203.77 L314.85,203.82 L315.56,203.86 L316.26,203.91 L316.97,203.96 L317.68,204.00 L318.40,204.05 L319.11,204.09 L319.83,204.14 L320.55,204.18 L321.27,204.23 L322.00,204.27 L322.72,204.31 L323.45,204.36 L324.18,204.40 L324.91,204.44 L325.65,204.48 L326.38,204.52 L327.12,204.57 L327.86,204.61 L328.61,204.65 L329.35,204.69 L330.10,204.73 L330.85,204.77 L331.60,204.80 L332.36,204.84 L333.11,204.88 L333.87,204.92 L334.63,204.96 L335.40,204.99 L336.16,205.03 L336.93,205.07 L337.70,205.10 L338.47,205.14 L339.24,205.17 L340.02,205.21 L340.80,205.24 L341.58,205.28 L342.37,205.31 L343.15,205.35 L343.94,205.38 L344.73,205.42 L345.52,205.45 L346.32,205.48 L347.12,205.51 L347.92,205.55 L348.72,205.58 L349.52,205.61 L350.33,205.64 L351.14,205.67 L351.95,205.70" fill="none" stroke="#5D6DC1" stroke-width="2.1" stroke-linejoin="round" stroke-linecap="butt"/>
<path d="M155.14,91.79 L155.39,92.88 L155.64,93.96 L155.89,95.03 L156.14,96.09 L156.39,97.14 L156.65,98.18 L156.90,99.21 L157.15,100.23 L157.41,101.24 L157.67,102.25 L157.92,103.24 L158.18,104.22 L158.44,105.20 L158.70,106.16 L158.96,107.12 L159.22,108.07 L159.48,109.01 L159.75,109.94 L160.01,110.86 L160.28,111.77 L160.54,112.68 L160.81,113.57 L161.07,114.46 L161.34,115.34 L161.61,116.21 L161.88,117.07 L162.15,117.93 L162.42,118.78 L162.69,119.62 L162.97,120.45 L163.24,121.27 L163.52,122.09 L163.79,122.90 L164.07,123.70 L164.34,124.49 L164.62,125.28 L164.90,126.06 L165.18,126.83 L165.46,127.59 L165.74,128.35 L166.03,129.10 L166.31,129.85 L166.59,130.58 L166.88,131.31 L167.16,132.04 L167.45,132.75 L167.74,133.46 L168.03,134.16 L168.32,134.86 L168.61,135.55 L168.90,136.24 L169.19,136.91 L169.48,137.58 L169.78,138.25 L170.07,138.91 L170.37,139.56 L170.67,140.21 L170.96,140.85 L171.26,141.48 L171.56,142.11 L171.86,142.73 L172.16,143.35 L172.47,143.96 L172.77,144.57 L173.07,145.17 L173.38,145.76 L173.69,146.35 L173.99,146.93 L174.30,147.51 L174.61,148.08 L174.92,148.65 L175.23,149.21 L175.54,149.77 L175.86,150.32 L176.17,150.87 L176.48,151.41 L176.80,151.95 L177.12,152.48 L177.44,153.01 L177.75,153.53 L178.07,154.04 L178.39,154.56 L178.72,155.06 L179.04,155.57 L179.36,156.06 L179.69,156.56 L180.01,157.05 L180.34,157.53 L180.67,158.01 L181.00,158.49 L181.33,158.96 L181.66,159.42 L181.99,159.88 L182.32,160.34 L182.66,160.80 L182.99,161.25 L183.33,161.69 L183.67,162.13 L184.00,162.57 L184.34,163.00 L184.68,163.43 L185.02,163.86 L185.37,164.28 L185.71,164.69 L186.06,165.11 L186.40,165.52 L186.75,165.92 L187.10,166.32 L187.44,166.72 L187.79,167.12 L188.15,167.51 L188.50,167.89 L188.85,168.28 L189.21,168.66 L189.56,169.03 L189.92,169.41 L190.28,169.78 L190.63,170.14 L190.99,170.50 L191.35,170.86 L191.72,171.22 L192.08,171.57 L192.44,171.92 L192.81,172.27 L193.18,172.61 L193.54,172.95 L193.91,173.29 L194.28,173.62 L194.66,173.95 L195.03,174.28 L195.40,174.60 L195.78,174.92 L196.15,175.24 L196.53,175.56 L196.91,175.87 L197.29,176.18 L197.67,176.49 L198.05,176.79 L198.43,177.09 L198.82,177.39 L199.20,177.68 L199.59,177.98 L199.98,178.27 L200.37,178.55 L200.76,178.84 L201.15,179.12 L201.54,179.40 L201.93,179.68 L202.33,179.95 L202.72,180.22 L203.12,180.49 L203.52,180.76 L203.92,181.02 L204.32,181.28 L204.73,181.54 L205.13,181.80 L205.53,182.05 L205.94,182.30 L206.35,182.55 L206.76,182.80 L207.17,183.05 L207.58,183.29 L207.99,183.53 L208.41,183.77 L208.82,184.00 L209.24,184.24 L209.65,184.47 L210.07,184.70 L210.49,184.93 L210.92,185.15 L211.34,185.38 L211.76,185.60 L212.19,185.82 L212.62,186.03 L213.04,186.25 L213.47,186.46 L213.91,186.67 L214.34,186.88 L214.77,187.09 L215.21,187.29 L215.64,187.50 L216.08,187.70 L216.52,187.90 L216.96,188.10 L217.40,188.29 L217.85,188.49 L218.29,188.68 L218.74,188.87 L219.18,189.06 L219.63,189.25 L220.08,189.43 L220.53,189.61 L220.99,189.80 L221.44,189.98 L221.90,190.15 L222.36,190.33 L222.81,190.51 L223.27,190.68 L223.74,190.85 L224.20,191.02 L224.66,191.19 L225.13,191.36 L225.60,191.52 L226.07,191.69 L226.54,191.85 L227.01,192.01 L227.48,192.17 L227.95,192.33 L228.43,192.49 L228.91,192.64 L229.39,192.79 L229.87,192.95 L230.35,193.10 L230.83,193.25 L231.32,193.40 L231.81,193.54 L232.29,193.69 L232.78,193.83 L233.27,193.97 L233.77,194.12 L234.26,194.26 L234.76,194.39 L235.25,194.53 L235.75,194.67 L236.25,194.80 L236.76,194.94 L237.26,195.07 L237.76,195.20 L238.27,195.33 L238.78,195.46 L239.29,195.59 L239.80,195.71 L240.31,195.84 L240.83,195.96 L241.34,196.09 L241.86,196.21 L242.38,196.33 L242.90,196.45 L243.43,196.57 L243.95,196.68 L244.48,196.80 L245.00,196.91 L245.53,197.03 L246.06,197.14 L246.60,197.25 L247.13,197.36 L247.67,197.47 L248.20,197.58 L248.74,197.69 L249.28,197.80 L249.83,197.90 L250.37,198.01 L250.92,198.11 L251.46,198.22 L252.01,198.32 L252.56,198.42 L253.12,198.52 L253.67,198.62 L254.23,198.72 L254.79,198.81 L255.35,198.91 L255.91,199.00 L256.47,199.10 L257.04,199.19 L257.60,199.29 L258.17,199.38 L258.74,199.47 L259.31,199.56 L259.89,199.65 L260.46,199.74 L261.04,199.83 L261.62,199.91 L262.20,200.00 L262.78,200.08 L263.37,200.17 L263.95,200.25 L264.54,200.34 L265.13,200.42 L265.72,200.50 L266.32,200.58 L266.91,200.66 L267.51,200.74 L268.11,200.82 L268.71,200.90 L269.31,200.97 L269.92,201.05 L270.53,201.13 L271.13,201.20 L271.74,201.27 L272.36,201.35 L272.97,201.42 L273.59,201.49 L274.21,201.56 L274.83,201.64 L275.45,201.71 L276.07,201.78 L276.70,201.84 L277.33,201.91 L277.96,201.98 L278.59,202.05 L279.22,202.11 L279.86,202.18 L280.50,202.24 L281.14,202.31 L281.78,202.37 L282.42,202.44 L283.07,202.50 L283.71,202.56 L284.36,202.62 L285.02,202.68 L285.67,202.74 L286.33,202.80 L286.98,202.86 L287.64,202.92 L288.31,202.98 L288.97,203.04 L289.64,203.10 L290.30,203.15 L290.97,203.21 L291.65,203.26 L292.32,203.32 L293.00,203.37 L293.68,203.43 L294.36,203.48 L295.04,203.54 L295.73,203.59 L296.41,203.64 L297.10,203.69 L297.79,203.74 L298.49,203.79 L299.18,203.84 L299.88,203.89 L300.58,203.94 L301.28,203.99 L301.99,204.04 L302.69,204.09 L303.40,204.13 L304.11,204.18 L304.83,204.23 L305.54,204.27 L306.26,204.32 L306.98,204.37 L307.70,204.41 L308.43,204.46 L309.15,204.50 L309.88,204.54 L310.61,204.59 L311.35,204.63 L312.08,204.67 L312.82,204.71 L313.56,204.76 L314.30,204.80 L315.05,204.84 L315.80,204.88 L316.55,204.92 L317.30,204.96 L318.05,205.00 L318.81,205.04 L319.57,205.07 L320.33,205.11 L321.09,205.15 L321.86,205.19 L322.63,205.23 L323.40,205.26 L324.17,205.30 L324.95,205.34 L325.73,205.37 L326.51,205.41 L327.29,205.44 L328.08,205.48 L328.86,205.51 L329.65,205.55 L330.45,205.58 L331.24,205.61 L332.04,205.65 L332.84,205.68 L333.64,205.71 L334.45,205.74 L335.26,205.78 L336.07,205.81 L336.88,205.84 L337.69,205.87 L338.51,205.90 L339.33,205.93 L340.16,205.96 L340.98,205.99 L341.81,206.02 L342.64,206.05 L343.47,206.08 L344.31,206.11 L345.15,206.14 L345.99,206.17 L346.83,206.20 L347.68,206.22 L348.53,206.25 L349.38,206.28 L350.23,206.31 L351.09,206.33 L351.95,206.36" fill="none" stroke="#F19700" stroke-width="2.1" stroke-linejoin="round" stroke-linecap="butt"/>
<path d="M149.63,91.79 L149.88,92.94 L150.13,94.08 L150.37,95.21 L150.62,96.33 L150.87,97.44 L151.12,98.54 L151.37,99.62 L151.62,100.70 L151.87,101.76 L152.13,102.82 L152.38,103.86 L152.64,104.89 L152.89,105.92 L153.15,106.93 L153.40,107.94 L153.66,108.93 L153.92,109.91 L154.18,110.89 L154.44,111.85 L154.70,112.81 L154.97,113.75 L155.23,114.69 L155.49,115.62 L155.76,116.54 L156.02,117.45 L156.29,118.35 L156.56,119.24 L156.83,120.12 L157.10,121.00 L157.37,121.86 L157.64,122.72 L157.91,123.57 L158.18,124.41 L158.45,125.24 L158.73,126.06 L159.00,126.88 L159.28,127.69 L159.56,128.49 L159.84,129.28 L160.12,130.06 L160.40,130.84 L160.68,131.61 L160.96,132.37 L161.24,133.13 L161.53,133.87 L161.81,134.61 L162.10,135.34 L162.38,136.07 L162.67,136.79 L162.96,137.50 L163.25,138.20 L163.54,138.90 L163.83,139.59 L164.12,140.27 L164.42,140.95 L164.71,141.62 L165.01,142.28 L165.30,142.94 L165.60,143.59 L165.90,144.23 L166.20,144.87 L166.50,145.50 L166.80,146.12 L167.10,146.74 L167.40,147.36 L167.71,147.96 L168.01,148.56 L168.32,149.16 L168.63,149.75 L168.93,150.33 L169.24,150.91 L169.55,151.48 L169.86,152.05 L170.18,152.61 L170.49,153.17 L170.80,153.71 L171.12,154.26 L171.44,154.80 L171.75,155.33 L172.07,155.86 L172.39,156.38 L172.71,156.90 L173.03,157.42 L173.36,157.92 L173.68,158.43 L174.00,158.93 L174.33,159.42 L174.66,159.91 L174.99,160.39 L175.31,160.87 L175.64,161.35 L175.98,161.81 L176.31,162.28 L176.64,162.74 L176.98,163.20 L177.31,163.65 L177.65,164.09 L177.99,164.54 L178.33,164.98 L178.67,165.41 L179.01,165.84 L179.35,166.27 L179.69,166.69 L180.04,167.10 L180.38,167.52 L180.73,167.93 L181.08,168.33 L181.43,168.73 L181.78,169.13 L182.13,169.52 L182.48,169.91 L182.83,170.30 L183.19,170.68 L183.55,171.06 L183.90,171.43 L184.26,171.80 L184.62,172.17 L184.98,172.53 L185.34,172.89 L185.71,173.25 L186.07,173.60 L186.44,173.95 L186.80,174.30 L187.17,174.64 L187.54,174.98 L187.91,175.31 L188.28,175.65 L188.66,175.98 L189.03,176.30 L189.41,176.63 L189.78,176.95 L190.16,177.26 L190.54,177.58 L190.92,177.89 L191.30,178.19 L191.68,178.50 L192.07,178.80 L192.45,179.10 L192.84,179.39 L193.23,179.68 L193.62,179.97 L194.01,180.26 L194.40,180.55 L194.79,180.83 L195.19,181.10 L195.58,181.38 L195.98,181.65 L196.38,181.92 L196.78,182.19 L197.18,182.46 L197.58,182.72 L197.98,182.98 L198.39,183.24 L198.79,183.49 L199.20,183.74 L199.61,183.99 L200.02,184.24 L200.43,184.49 L200.84,184.73 L201.26,184.97 L201.67,185.21 L202.09,185.44 L202.51,185.67 L202.93,185.91 L203.35,186.13 L203.77,186.36 L204.20,186.58 L204.62,186.81 L205.05,187.03 L205.48,187.24 L205.91,187.46 L206.34,187.67 L206.77,187.88 L207.20,188.09 L207.64,188.30 L208.07,188.51 L208.51,188.71 L208.95,188.91 L209.39,189.11 L209.84,189.31 L210.28,189.50 L210.72,189.69 L211.17,189.89 L211.62,190.08 L212.07,190.26 L212.52,190.45 L212.97,190.63 L213.43,190.82 L213.88,191.00 L214.34,191.17 L214.80,191.35 L215.26,191.53 L215.72,191.70 L216.18,191.87 L216.65,192.04 L217.12,192.21 L217.58,192.38 L218.05,192.54 L218.52,192.71 L219.00,192.87 L219.47,193.03 L219.95,193.19 L220.42,193.34 L220.90,193.50 L221.38,193.65 L221.86,193.81 L222.35,193.96 L222.83,194.11 L223.32,194.25 L223.81,194.40 L224.30,194.55 L224.79,194.69 L225.28,194.83 L225.78,194.97 L226.27,195.11 L226.77,195.25 L227.27,195.39 L227.77,195.52 L228.27,195.66 L228.78,195.79 L229.28,195.92 L229.79,196.05 L230.30,196.18 L230.81,196.31 L231.33,196.44 L231.84,196.56 L232.36,196.69 L232.88,196.81 L233.39,196.93 L233.92,197.05 L234.44,197.17 L234.96,197.29 L235.49,197.40 L236.02,197.52 L236.55,197.64 L237.08,197.75 L237.61,197.86 L238.15,197.97 L238.69,198.08 L239.23,198.19 L239.77,198.30 L240.31,198.41 L240.85,198.51 L241.40,198.62 L241.95,198.72 L242.50,198.82 L243.05,198.93 L243.60,199.03 L244.16,199.13 L244.71,199.23 L245.27,199.32 L245.83,199.42 L246.39,199.52 L246.96,199.61 L247.52,199.71 L248.09,199.80 L248.66,199.89 L249.23,199.98 L249.81,200.07 L250.38,200.16 L250.96,200.25 L251.54,200.34 L252.12,200.43 L252.70,200.51 L253.29,200.60 L253.88,200.68 L254.47,200.77 L255.06,200.85 L255.65,200.93 L256.24,201.01 L256.84,201.09 L257.44,201.17 L258.04,201.25 L258.64,201.33 L259.25,201.41 L259.85,201.48 L260.46,201.56 L261.07,201.63 L261.68,201.71 L262.30,201.78 L262.92,201.85 L263.53,201.93 L264.15,202.00 L264.78,202.07 L265.40,202.14 L266.03,202.21 L266.66,202.28 L267.29,202.34 L267.92,202.41 L268.56,202.48 L269.19,202.54 L269.83,202.61 L270.48,202.67 L271.12,202.74 L271.76,202.80 L272.41,202.86 L273.06,202.93 L273.71,202.99 L274.37,203.05 L275.02,203.11 L275.68,203.17 L276.34,203.23 L277.01,203.29 L277.67,203.34 L278.34,203.40 L279.01,203.46 L279.68,203.51 L280.35,203.57 L281.03,203.63 L281.71,203.68 L282.39,203.73 L283.07,203.79 L283.76,203.84 L284.44,203.89 L285.13,203.95 L285.82,204.00 L286.52,204.05 L287.22,204.10 L287.91,204.15 L288.61,204.20 L289.32,204.25 L290.02,204.30 L290.73,204.34 L291.44,204.39 L292.15,204.44 L292.87,204.49 L293.59,204.53 L294.31,204.58 L295.03,204.62 L295.75,204.67 L296.48,204.71 L297.21,204.76 L297.94,204.80 L298.67,204.84 L299.41,204.89 L300.15,204.93 L300.89,204.97 L301.63,205.01 L302.38,205.05 L303.13,205.09 L303.88,205.13 L304.63,205.17 L305.39,205.21 L306.15,205.25 L306.91,205.29 L307.67,205.33 L308.44,205.37 L309.21,205.41 L309.98,205.44 L310.75,205.48 L311.53,205.52 L312.31,205.55 L313.09,205.59 L313.87,205.62 L314.66,205.66 L315.45,205.69 L316.24,205.73 L317.03,205.76 L317.83,205.80 L318.63,205.83 L319.43,205.86 L320.24,205.90 L321.04,205.93 L321.85,205.96 L322.67,205.99 L323.48,206.02 L324.30,206.05 L325.12,206.08 L325.94,206.12 L326.77,206.15 L327.60,206.18 L328.43,206.21 L329.27,206.23 L330.10,206.26 L330.94,206.29 L331.78,206.32 L332.63,206.35 L333.48,206.38 L334.33,206.41 L335.18,206.43 L336.04,206.46 L336.90,206.49 L337.76,206.51 L338.63,206.54 L339.49,206.57 L340.37,206.59 L341.24,206.62 L342.12,206.64 L342.99,206.67 L343.88,206.69 L344.76,206.72 L345.65,206.74 L346.54,206.77 L347.44,206.79 L348.33,206.81 L349.23,206.84 L350.14,206.86 L351.04,206.88 L351.95,206.91" fill="none" stroke="#A541AF" stroke-width="2.1" stroke-linejoin="round" stroke-linecap="butt"/>
<path d="M167.35,214.9 v-1.6 M213.50,214.9 v-1.6 M259.65,214.9 v-1.6 M305.80,214.9 v-1.6 M351.95,214.9 v-1.6 M145.7,209.20 h1.7 M145.7,179.70 h1.7 M145.7,150.20 h1.7 M145.7,120.70 h1.7 M145.7,91.20 h1.7" stroke="#000" stroke-width="1.6" fill="none"/>
<path d="M148.89,214.9 v-0.6 M158.12,214.9 v-0.6 M176.58,214.9 v-0.6 M185.81,214.9 v-0.6 M195.04,214.9 v-0.6 M204.27,214.9 v-0.6 M222.73,214.9 v-0.6 M231.96,214.9 v-0.6 M241.19,214.9 v-0.6 M250.42,214.9 v-0.6 M268.88,214.9 v-0.6 M278.11,214.9 v-0.6 M287.34,214.9 v-0.6 M296.57,214.9 v-0.6 M315.03,214.9 v-0.6 M324.26,214.9 v-0.6 M333.49,214.9 v-0.6 M342.72,214.9 v-0.6 M145.7,203.30 h0.6 M145.7,197.40 h0.6 M145.7,191.50 h0.6 M145.7,185.60 h0.6 M145.7,173.80 h0.6 M145.7,167.90 h0.6 M145.7,162.00 h0.6 M145.7,156.10 h0.6 M145.7,144.30 h0.6 M145.7,138.40 h0.6 M145.7,132.50 h0.6 M145.7,126.60 h0.6 M145.7,114.80 h0.6 M145.7,108.90 h0.6 M145.7,103.00 h0.6 M145.7,97.10 h0.6" stroke="#000" stroke-width="0.9" fill="none"/>
<rect x="144.8" y="85.25" width="211.2" height="130.55" fill="none" stroke="#000" stroke-width="2.4"/>
<text class="s" x="141.3" y="212.75" font-size="12" text-anchor="end" fill="#000">0</text>
<text class="s" x="141.3" y="183.25" font-size="12" text-anchor="end" fill="#000">500</text>
<text class="s" x="141.3" y="153.75" font-size="12" text-anchor="end" fill="#000">1000</text>
<text class="s" x="141.3" y="124.25" font-size="12" text-anchor="end" fill="#000">1500</text>
<text class="s" x="141.3" y="94.75" font-size="12" text-anchor="end" fill="#000">2000</text>
<text class="s" x="167.35" y="229.9" font-size="12" text-anchor="middle" fill="#000">0.10</text>
<text class="s" x="213.50" y="229.9" font-size="12" text-anchor="middle" fill="#000">0.15</text>
<text class="s" x="259.65" y="229.9" font-size="12" text-anchor="middle" fill="#000">0.20</text>
<text class="s" x="305.80" y="229.9" font-size="12" text-anchor="middle" fill="#000">0.25</text>
<text class="s" x="351.95" y="229.9" font-size="12" text-anchor="middle" fill="#000">0.30</text>
<line x1="420.15" y1="101.5" x2="440.1" y2="101.5" stroke="#E65C0E" stroke-width="1.95"/>
<text class="s" transform="matrix(0.2115 0 0 0.1894 450.20 106.60)" font-size="100" font-style="italic" fill="#222">X</text>
<text class="s" transform="matrix(0.2471 0 0 0.1560 469.07 107.13)" font-size="100" fill="#111" stroke="#111" stroke-width="0.3" vector-effect="non-scaling-stroke">=</text>
<text class="s" transform="matrix(0.1581 0 0 0.1845 487.60 106.57)" font-size="100" fill="#222">0</text>
<line x1="420.15" y1="135.4" x2="440.1" y2="135.4" stroke="#5D6DC1" stroke-width="1.95"/>
<text class="s" transform="matrix(0.2115 0 0 0.1894 450.20 140.50)" font-size="100" font-style="italic" fill="#222">X</text>
<text class="s" transform="matrix(0.2471 0 0 0.1560 469.07 141.03)" font-size="100" fill="#111" stroke="#111" stroke-width="0.3" vector-effect="non-scaling-stroke">=</text>
<text class="s" transform="matrix(0.1581 0 0 0.1845 487.60 140.47)" font-size="100" fill="#222">0</text>
<text class="s" transform="matrix(0.1523 0 0 0.1608 496.10 140.27)" font-size="100" fill="#222">.</text>
<text class="s" transform="matrix(0.1743 0 0 0.1853 500.07 140.47)" font-size="100" fill="#222">3</text>
<line x1="420.15" y1="169.35" x2="440.1" y2="169.35" stroke="#F19700" stroke-width="1.95"/>
<text class="s" transform="matrix(0.2115 0 0 0.1894 450.20 174.75)" font-size="100" font-style="italic" fill="#222">X</text>
<text class="s" transform="matrix(0.2471 0 0 0.1560 469.07 175.28)" font-size="100" fill="#111" stroke="#111" stroke-width="0.3" vector-effect="non-scaling-stroke">=</text>
<text class="s" transform="matrix(0.1581 0 0 0.1845 487.60 174.72)" font-size="100" fill="#222">0</text>
<text class="s" transform="matrix(0.1523 0 0 0.1608 496.10 174.52)" font-size="100" fill="#222">.</text>
<text class="s" transform="matrix(0.1685 0 0 0.1853 500.18 174.72)" font-size="100" fill="#222">6</text>
<line x1="420.15" y1="203.35" x2="440.1" y2="203.35" stroke="#A541AF" stroke-width="1.95"/>
<text class="s" transform="matrix(0.2115 0 0 0.1894 450.20 208.75)" font-size="100" font-style="italic" fill="#222">X</text>
<text class="s" transform="matrix(0.2471 0 0 0.1560 469.07 209.28)" font-size="100" fill="#111" stroke="#111" stroke-width="0.3" vector-effect="non-scaling-stroke">=</text>
<text class="s" transform="matrix(0.1581 0 0 0.1845 487.60 208.72)" font-size="100" fill="#222">0</text>
<text class="s" transform="matrix(0.1523 0 0 0.1608 496.10 208.52)" font-size="100" fill="#222">.</text>
<text class="s" transform="matrix(0.1687 0 0 0.1853 500.36 208.72)" font-size="100" fill="#222">9</text>
<text class="s" transform="translate(19.7,281.4) rotate(-90) scale(1,1.06)" font-size="22" fill="#222" textLength="57.4" lengthAdjust="spacingAndGlyphs">Radial</text>
<text class="s" transform="translate(19.7,219.8) rotate(-90) scale(1,1.06)" font-size="22" fill="#222" textLength="46.6" lengthAdjust="spacingAndGlyphs">Tidal</text>
<text class="s" transform="translate(19.7,168.7) rotate(-90) scale(1,1.06)" font-size="22" fill="#222" textLength="54.0" lengthAdjust="spacingAndGlyphs">Forces</text>
<text class="s" transform="matrix(0.2418 0 0 0.2059 287.32 391.00)" font-size="100" font-style="italic" fill="#222">r</text>
<text class="s" transform="matrix(0.2051 0 0 0.3304 300.34 396.18)" font-size="100" font-style="italic" fill="#222">/</text>
<text class="s" transform="matrix(0.2335 0 0 0.2245 309.27 391.00)" font-size="100" font-style="italic" fill="#222">M</text>
</svg></body></html>
